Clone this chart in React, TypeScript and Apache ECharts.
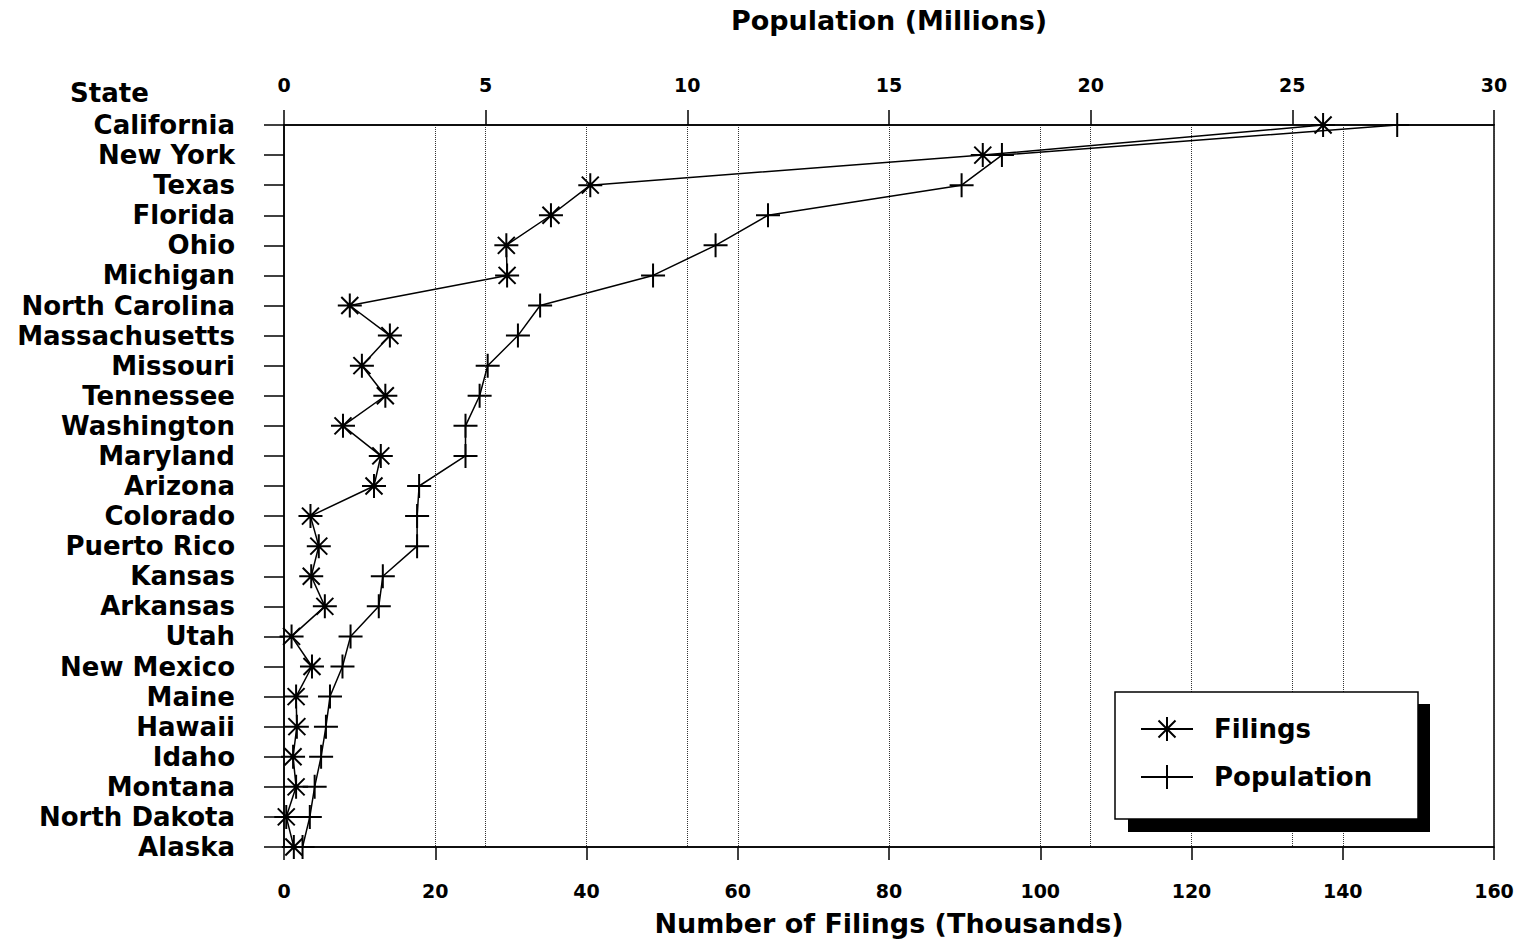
import React, { useEffect, useRef } from "react";
import * as echarts from "echarts";

// States, ordered as listed from top to bottom
const states = [
  "California",
  "New York",
  "Texas",
  "Florida",
  "Ohio",
  "Michigan",
  "North Carolina",
  "Massachusetts",
  "Missouri",
  "Tennessee",
  "Washington",
  "Maryland",
  "Arizona",
  "Colorado",
  "Puerto Rico",
  "Kansas",
  "Arkansas",
  "Utah",
  "New Mexico",
  "Maine",
  "Hawaii",
  "Idaho",
  "Montana",
  "North Dakota",
  "Alaska",
];

// Number of filings, thousands
const filings = [
  137.4, 92.4, 40.5, 35.3, 29.4, 29.5, 8.7, 14.0, 10.3, 13.4, 7.8, 12.8, 11.9,
  3.5, 4.6, 3.6, 5.4, 1.0, 3.7, 1.6, 1.7, 1.2, 1.6, 0.3, 1.3,
];

// Population, millions
const population = [
  27.6, 17.8, 16.8, 12.0, 10.7, 9.15, 6.35, 5.8, 5.05, 4.85, 4.5, 4.5, 3.35,
  3.3, 3.3, 2.45, 2.35, 1.65, 1.45, 1.14, 1.04, 0.92, 0.76, 0.64, 0.46,
];

// Axis ranges and tick steps
const filingsMin = 0;
const filingsMax = 160;
const filingsStep = 20;
const populationMin = 0;
const populationMax = 30;
const populationStep = 5;

const FONT = "DejaVu Sans";

// Stroked marker shapes
const ASTERISK =
  "path://M12,0L12,24M0,12L24,12M3.5,3.5L20.5,20.5M3.5,20.5L20.5,3.5";
const PLUS = "path://M12,0L12,24M0,12L24,12";

export default function App() {
  const ref = useRef<HTMLDivElement>(null);

  useEffect(() => {
    if (!ref.current) return;
    const chart = echarts.init(ref.current, undefined, { renderer: "svg" });

    const axisLine = { show: true, lineStyle: { color: "#000", width: 1.5 } };
    const gridLine = {
      show: true,
      lineStyle: { color: "#333", width: 1, type: "dotted" as const },
    };
    const tickFont = {
      fontFamily: FONT,
      fontWeight: "bold" as const,
      fontSize: 19,
      color: "#000",
    };
    const titleFont = {
      fontFamily: FONT,
      fontWeight: "bold" as const,
      fontSize: 27,
      color: "#000",
    };

    chart.setOption({
      animation: false,
      backgroundColor: "#fff",
      grid: {
        left: 284,
        right: 30,
        top: 125,
        bottom: 95,
        show: true,
        borderColor: "#000",
        borderWidth: 1.5,
        backgroundColor: "transparent",
      },
      xAxis: [
        {
          type: "value",
          position: "bottom",
          min: filingsMin,
          max: filingsMax,
          interval: filingsStep,
          name: "Number of Filings (Thousands)",
          nameLocation: "middle",
          nameGap: 63,
          nameTextStyle: titleFont,
          axisLine,
          axisTick: { show: true, length: 13, lineStyle: { color: "#000", width: 1.5 } },
          axisLabel: { ...tickFont, margin: 34 },
          splitLine: gridLine,
        },
        {
          type: "value",
          position: "top",
          min: populationMin,
          max: populationMax,
          interval: populationStep,
          name: "Population (Millions)",
          nameLocation: "middle",
          nameGap: 91,
          nameTextStyle: titleFont,
          axisLine,
          axisTick: { show: true, length: 15, lineStyle: { color: "#000", width: 1.5 } },
          axisLabel: { ...tickFont, margin: 31 },
          splitLine: gridLine,
        },
      ],
      yAxis: {
        type: "category",
        data: states,
        inverse: true,
        boundaryGap: false,
        axisLine,
        axisTick: { show: true, length: 20, lineStyle: { color: "#000", width: 1.5 } },
        axisLabel: {
          interval: 0,
          margin: 49,
          fontFamily: FONT,
          fontWeight: "bold",
          fontSize: 26,
          color: "#000",
        },
        splitLine: { show: false },
      },
      legend: {
        orient: "vertical",
        left: 1140,
        top: 716,
        padding: 0,
        itemWidth: 52,
        itemHeight: 30,
        itemGap: 22,
        z: 20,
        data: ["Filings", "Population"],
        textStyle: {
          fontFamily: FONT,
          fontWeight: "bold",
          fontSize: 26,
          color: "#000",
          padding: [4, 0, 0, 16],
        },
      },
      graphic: [
        {
          type: "rect",
          z: 10,
          shape: { x: 1128, y: 704, width: 302, height: 128 },
          style: { fill: "#000" },
        },
        {
          type: "rect",
          z: 11,
          shape: { x: 1115, y: 692, width: 303, height: 127 },
          style: { fill: "#fff", stroke: "#000", lineWidth: 1.5 },
        },
        {
          type: "text",
          x: 70,
          y: 93,
          style: {
            text: "State",
            fontFamily: FONT,
            fontWeight: "bold",
            fontSize: 26,
            fill: "#000",
            verticalAlign: "middle",
          },
        },
      ],
      series: [
        {
          name: "Filings",
          type: "line",
          xAxisIndex: 0,
          yAxisIndex: 0,
          data: filings.map((v, i) => [v, states[i]]),
          symbol: ASTERISK,
          symbolSize: 24,
          lineStyle: { color: "#000", width: 1.5 },
          itemStyle: { color: "#000", borderColor: "#000", borderWidth: 2 },
          emphasis: { disabled: true },
          z: 3,
        },
        {
          name: "Population",
          type: "line",
          xAxisIndex: 1,
          yAxisIndex: 0,
          data: population.map((v, i) => [v, states[i]]),
          symbol: PLUS,
          symbolSize: 24,
          lineStyle: { color: "#000", width: 1.5 },
          itemStyle: { color: "#000", borderColor: "#000", borderWidth: 2 },
          emphasis: { disabled: true },
          z: 3,
        },
      ],
    });

    return () => chart.dispose();
  }, []);

  return (
    <div
      ref={ref}
      style={{ position: "absolute", left: 0, top: 0, width: 1524, height: 942 }}
    />
  );
}
